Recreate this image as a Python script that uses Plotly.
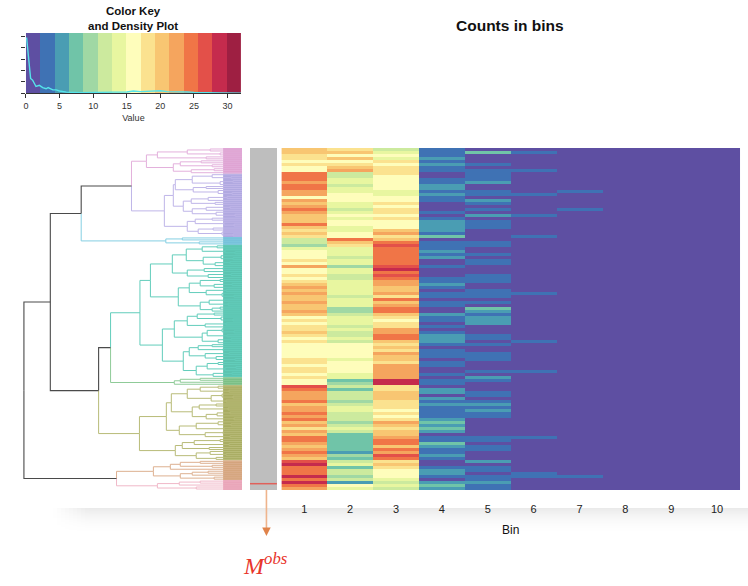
import plotly.graph_objects as go

W, H = 748, 586
N_ROWS = 114
X_NUDGE = -2  # the page renders plot areas 2px right of the nominal position

# ---- heatmap data: one list per bin, rows top to bottom ----
bin_labels = ["1", "2", "3", "4", "5", "6", "7", "8", "9", "10"]
bin_1 = [20,20,18,18,16,18,16,16,25,25, 25,22,25,25,22,22,16,22,20,22,
         25,22,20,20,20,25,20,18,20,18, 12,12,10,14,16,16,16,18,16,22,
         16,16,18,16,18,20,22,20,22,20, 20,22,20,20,22,20,16,18,16,18,
         18,20,18,16,18,16,16,16,16,16, 18,18,16,18,18,16,18,16,16,27,
         25,22,22,22,25,20,22,22,25,22, 25,20,22,18,22,20,25,25,22,20,
         22,25,22,20,27,29,25,25,25,29, 25,29,25,22]
bin_2 = [18,20,16,20,16,18,20,22,12,12, 14,14,12,14,14,16,16,16,14,14,
         12,14,16,14,16,16,14,14,16,16, 25,20,18,14,14,14,12,14,14,10,
         14,14,12,12,14,14,14,14,14,12, 14,14,14,10,10,12,14,14,14,12,
         14,12,12,14,12,16,16,16,16,16, 14,16,16,16,16,14,14,7,10,12,
         7,12,12,12,10,12,14,14,12,12, 12,10,12,14,12,7,7,7,7,7,
         7,5,10,7,12,14,7,12,12,10, 12,5,16,14]
bin_3 = [12,14,16,14,18,16,18,18,18,16, 16,16,16,16,14,14,16,16,18,16,
         18,18,16,18,16,16,16,20,22,18, 20,25,27,25,25,25,25,25,25,27,
         29,25,27,25,22,22,20,20,22,18, 25,20,22,25,25,20,18,16,18,18,
         22,22,25,25,20,18,20,18,22,20, 20,18,22,22,22,22,22,29,29,18,
         18,20,20,20,18,18,18,16,18,16, 18,22,20,18,20,20,22,25,25,20,
         25,22,27,25,18,20,18,16,16,16, 14,12,14,12]
bin_4 = [3,3,3,5,3,5,3,3,1,1, 3,3,5,5,3,5,3,3,1,1,
         1,3,1,3,5,5,5,5,3,7, 1,3,3,3,5,3,5,1,1,3,
         1,1,1,3,3,5,3,1,3,3, 1,3,3,1,1,5,3,3,1,3,
         1,3,5,5,5,3,1,3,3,3, 1,3,3,1,1,3,1,3,3,1,
         5,5,1,5,3,5,3,3,3,3, 5,7,5,7,5,1,3,3,7,5,
         3,3,5,3,1,1,3,5,5,3, 1,5,7,5]
bin_5 = [1,7,1,1,1,3,1,3,3,3, 3,5,1,1,3,3,1,5,3,1,
         3,1,5,1,3,3,3,1,1,1, 1,3,3,1,1,3,1,3,3,1,
         1,1,3,3,3,1,1,3,3,3, 1,3,1,7,5,3,5,5,5,1,
         1,1,3,3,1,3,1,1,3,3, 3,1,1,1,3,1,5,3,1,1,
         1,3,3,1,3,5,3,5,3,3, 1,1,1,1,1,1,3,3,1,3,
         3,1,1,1,5,1,3,3,1,3, 3,5,3,3]
bin_6 = [1,3,1,1,1,1,1,3,1,1, 1,1,1,1,1,3,1,1,1,1,
         1,1,3,1,1,1,1,1,1,3, 1,1,1,1,1,1,1,1,1,1,
         1,1,1,1,1,1,1,1,3,1, 1,1,1,1,1,1,1,1,1,1,
         1,1,1,1,3,1,1,1,1,1, 1,1,1,1,3,1,1,1,1,1,
         1,1,1,1,1,1,1,1,1,1, 1,1,1,1,1,1,3,1,1,1,
         1,1,1,1,1,1,1,1,3,3, 1,1,1,1]
bin_7 = [1,1,1,1,1,1,1,1,1,1, 1,1,1,1,3,1,1,1,1,1,
         3,1,1,1,1,1,1,1,1,1, 1,1,1,1,1,1,1,1,1,1,
         1,1,1,1,1,1,1,1,1,1, 1,1,1,1,1,1,1,1,1,1,
         1,1,1,1,1,1,1,1,1,1, 1,1,1,1,1,1,1,1,1,1,
         1,1,1,1,1,1,1,1,1,1, 1,1,1,1,1,1,1,1,1,1,
         1,1,1,1,1,1,1,1,1,3, 1,1,1,1]
bin_8 = [1] * N_ROWS
bin_9 = [1] * N_ROWS
bin_10 = [1] * N_ROWS

# ---- colour key ----
key_colors = ["#5E4FA2", "#3F72B4", "#4A9DB3", "#70C4A8", "#A0D8A4", "#CCEA9E", "#E8F6A0",
              "#FEFDBB", "#FBE28F", "#F8C672", "#F5A55E", "#F07547", "#E35049", "#C52B4D", "#9E1F42"]
key_max = 32
key_ticks = [0, 5, 10, 15, 20, 25, 30]
density_x = [0.1, 0.4, 0.7, 1, 1.5, 2, 2.5, 3, 3.3, 4, 4.5, 5, 6, 8, 10, 13, 15, 16, 17, 18,
             19, 20, 21, 22, 23, 24, 25, 27, 29, 32]
density_y = [0.49, 0.30, 0.13, 0.115, 0.06, 0.07, 0.05, 0.04, 0.05, 0.03, 0.03, 0.02, 0.01, 0.005,
             0.005, 0.01, 0.012, 0.02, 0.015, 0.017, 0.015, 0.022, 0.015, 0.015, 0.012, 0.012,
             0.008, 0.003, 0.002, 0.0]

# ---- dendrogram: (height, child, child); 0 is a leaf ----
tree_pink = (96, (85, (55, (32, 0, 0), (22, 0, 0)), (36, 0, 0)),
             (69, (62, (41, 0, 0), (30, 0, 0)), (51, (28, 0, 0), 0)))
tree_purple = (78, (69,
                    (67, (50, (30, 0, (11, 0, 0)), (22, (9, 0, 0), 0)), (49, (36, 0, 0), (24, 0, (10, 0, 0)))),
                    (59, (51, (34, (15, 0, 0), 0), (27, 0, 0)), (50, (36, (12, 0, 0), 0), (26, 0, (7, 0, 0))))),
               (55, (47, (30, 0, 0), (18, 0, (8, 0, 0))), (44, (29, 0, 0), (20, 0, (9, 0, 0)))))
tree_cyan = (76.5, (60, 0, 0), (43, 0, 0))
tree_teal = (102.5,
             (92,
              (70, (56, (40, (25, 0, 0), (17, 0, (7, 0, 0))), (39, (21, 0, (9, 0, 0)), (27, (12, 0, 0), 0))),
               (55, (38, (19, 0, 0), 0), (34, (11, 0, 0), 0))),
              (64, (53, (42, (22, 0, 0), (28, (10, 0, 0), 0)), (36, (16, 0, 0), (20, 0, (8, 0, 0)))),
               (42, (33, (18, 0, 0), (14, 0, 0)), (30, (22, 0, 0), 0)))),
             (80,
              (68, (55, (45, (28, 0, 0), (21, 0, (9, 0, 0))), (37, (16, 0, 0), 0)),
               (40, (35, (20, 0, (8, 0, 0)), (15, 0, 0)), (24, (11, 0, 0), 0))),
              (59, (53, (44, (30, 0, 0), (19, 0, 0)), (37, (13, 0, 0), (26, 0, (7, 0, 0)))),
               (46, (35, (24, 0, 0), (17, (6, 0, 0), 0)), (29, (10, 0, 0), 0)))))
tree_green = (68, (62, (42, 0, 0), 0), 0)
tree_olive = (103,
              (76,
               (71, (55, (42, (24, 0, 0), (13, 0, 0)), (31, (20, 0, (9, 0, 0)), (16, 0, 0))),
                (50, (43, (26, 0, 0), (14, 0, 0)), (36, (25, (12, 0, 0), 0), (8, 0, 0)))),
               (63, (46, (24, 0, (11, 0, 0)), (18, 0, 0)), (37, (19, 0, 0), (12, 0, 0)))),
              (67, (60, (48, (22, 0, 0), (13, 0, 0)), (33, 0, 0)), (46, (32, 0, (16, 0, 0)), (26, 0, 0))))
tree_brown = (89, (72, (62, (42, 0, 0), (30, 0, 0)), 0), (62, (50, (34, 0, 0), 0), (28, 0, 0)))
tree_rose = (85, (63, (42, 0, 0), 0), (46, 0, 0))

clusters = [("pink", tree_pink, "#E3B0DC", "#DD9FCF"),
            ("purple", tree_purple, "#BFB5E8", "#B0A8E0"),
            ("cyan", tree_cyan, "#84CFE2", "#6FB8D6"),
            ("teal", tree_teal, "#62CDBB", "#5CC3B0"),
            ("green", tree_green, "#8FCB98", "#75BC80"),
            ("olive", tree_olive, "#B8BB78", "#A8AC62"),
            ("brown", tree_brown, "#DDB090", "#D2A278"),
            ("rose", tree_rose, "#F0B8C8", "#E598AE")]
cluster_index = {c[0]: i for i, c in enumerate(clusters)}
trunk = (219,
         (192.5,
          (161.5, (111, "pink", "purple"), "cyan"),
          (144, (132, "teal", "green"), "olive")),
         (126, "brown", "rose"))
trunk_color = "#4A4A4A"

# ---- pixel layout helpers ----
def px_x(a, b):
    return [(a + X_NUDGE) / W, (b + X_NUDGE) / W]

def px_y(top, bottom):
    return [1 - bottom / H, 1 - top / H]

# ---- lay out the tree ----
leaf_counter = [0]
segments = {c[0]: ([], []) for c in clusters}
segments["trunk"] = ([], [])
spans = {}

def walk_cluster(node, key):
    if node == 0:
        leaf_counter[0] += 1
        return 0, leaf_counter[0] - 0.5
    h, a, b = node
    ha, ya = walk_cluster(a, key)
    hb, yb = walk_cluster(b, key)
    y = (ya + yb) / 2
    xs, ys = segments[key]
    for hc, yc in ((ha, ya), (hb, yb)):
        xs += [hc, h, h, None]
        ys += [yc, yc, y, None]
    return h, y

def walk(node):
    """Return (height, y, segment key) and draw each child's edge in the child's colour."""
    if isinstance(node, str):
        start = leaf_counter[0]
        h, y = walk_cluster(clusters[cluster_index[node]][1], node)
        spans[node] = (start, leaf_counter[0])
        return h, y, node
    h, a, b = node
    ha, ya, ka = walk(a)
    hb, yb, kb = walk(b)
    y = (ya + yb) / 2
    for hc, yc, kc in ((ha, ya, ka), (hb, yb, kb)):
        xs, ys = segments[kc]
        xs += [hc, h, h, None]
        ys += [yc, yc, y, None]
    return h, y, "trunk"

walk(trunk)
n_leaves = leaf_counter[0]

fig = go.Figure()

# soft grey band behind the axis title (a photographed-page backdrop); first subplot, so it stays under labels
band_x = list(range(0, W + 4, 4))
band_rows = list(range(0, 28))
band_z = []
for r in band_rows:
    row_level = ((r + 1) / len(band_rows)) ** 2.2
    line = []
    for px in band_x:
        side = min(1.0, max(0.0, (px - 50) / 35))
        line.append(row_level * side)
    band_z.append(line)
fig.add_trace(go.Heatmap(z=band_z, x=band_x, y=band_rows, zmin=0, zmax=1, showscale=False,
                         colorscale=[[0, "#FFFFFF"], [1, "#EAEAEA"]], xaxis="x", yaxis="y", hoverinfo="skip"))

# main heatmap
main_columns = [bin_1, bin_2, bin_3, bin_4, bin_5, bin_6, bin_7, bin_8, bin_9, bin_10]
main_z = [[col[r] for col in main_columns] for r in range(N_ROWS)]
n = len(key_colors)
step_scale = []
for i, c in enumerate(key_colors):
    step_scale += [[i / n, c], [(i + 1) / n, c]]
fig.add_trace(go.Heatmap(z=main_z, x=list(range(1, 11)), y=list(range(N_ROWS)), zmin=0, zmax=key_max,
                         colorscale=step_scale, showscale=False, xaxis="x5", yaxis="y5", hoverinfo="skip"))

# grey sidebar with the observed row marked
sidebar_z = [[0] for _ in range(N_ROWS)]
fig.add_trace(go.Heatmap(z=sidebar_z, x=[0], y=list(range(N_ROWS)), zmin=0, zmax=1,
                         colorscale=[[0, "#BEBEBE"], [1, "#BEBEBE"]], showscale=False,
                         xaxis="x2", yaxis="y2", hoverinfo="skip"))
obs_row = 111.4
fig.add_trace(go.Scatter(x=[-0.5, 0.5], y=[obs_row, obs_row], mode="lines", xaxis="x2", yaxis="y2",
                         line=dict(color="#E0605A", width=1.5), showlegend=False, hoverinfo="skip"))

# cluster blocks at the dendrogram tips
for name, _, _, fill in clusters:
    s, e = spans[name]
    fig.add_shape(type="rect", xref="x3", yref="y3", x0=0, x1=19, y0=s, y1=e, fillcolor=fill, line_width=0, layer="below")

for name, _, col, _ in clusters:
    xs, ys = segments[name]
    fig.add_trace(go.Scatter(x=xs, y=ys, mode="lines", xaxis="x3", yaxis="y3", line=dict(color=col, width=1),
                             showlegend=False, hoverinfo="skip"))
xs, ys = segments["trunk"]
fig.add_trace(go.Scatter(x=xs, y=ys, mode="lines", xaxis="x3", yaxis="y3", line=dict(color=trunk_color, width=1.1),
                         showlegend=False, hoverinfo="skip"))

# colour key
key_step = key_max / n
key_mid = [(i + 0.5) * key_step for i in range(n)]
fig.add_trace(go.Heatmap(z=[key_mid], x=key_mid, y=[0.265], dy=0.53, zmin=0, zmax=key_max, colorscale=step_scale,
                         showscale=False, xaxis="x4", yaxis="y4", hoverinfo="skip"))
fig.add_trace(go.Scatter(x=density_x, y=density_y, mode="lines", xaxis="x4", yaxis="y4",
                         line=dict(color="#55E4EA", width=1.4), showlegend=False, hoverinfo="skip"))

# pointer from the observed row down to its label
ax = 266.5 + X_NUDGE
fig.add_shape(type="line", xref="paper", yref="paper", x0=ax / W, x1=ax / W, y0=1 - 490 / H, y1=1 - 529 / H,
              line=dict(color="#EFB48C", width=1.6))
fig.add_shape(type="path", xref="paper", yref="paper", line_width=0, fillcolor="#E0834A",
              path=f"M {(ax - 4.3) / W} {1 - 527.5 / H} L {(ax + 4.3) / W} {1 - 527.5 / H} L {ax / W} {1 - 536 / H} Z")

text_font = "Liberation Sans, Arial, sans-serif"
fig.update_layout(
    width=W, height=H, margin=dict(l=0, r=0, t=0, b=0), autosize=False,
    paper_bgcolor="white", plot_bgcolor="rgba(0,0,0,0)", showlegend=False,
    font=dict(family=text_font, color="#222222"),
    xaxis=dict(domain=[0, 1], range=[0, W], visible=False),
    yaxis=dict(domain=px_y(508, 536), range=[-0.5, len(band_rows) - 0.5], visible=False),
    xaxis2=dict(domain=px_x(250, 277), range=[-0.5, 0.5], visible=False, anchor="y2"),
    yaxis2=dict(domain=px_y(148, 490), range=[N_ROWS - 0.5, -0.5], visible=False, anchor="x2"),
    xaxis3=dict(domain=px_x(2, 242), range=[240, 0], visible=False, anchor="y3"),
    yaxis3=dict(domain=px_y(148, 490), range=[n_leaves, 0], visible=False, anchor="x3"),
    xaxis4=dict(domain=px_x(25, 241), range=[0, key_max], tickmode="array", tickvals=key_ticks, ticks="outside",
                ticklen=4, tickcolor="#333333", tickfont=dict(size=9, color="#333333"), showgrid=False, zeroline=False,
                anchor="y4", showline=True, linecolor="#333333", linewidth=1,
                title=dict(text="Value", font=dict(size=9, color="#333333"), standoff=4)),
    yaxis4=dict(domain=px_y(33, 93.3), range=[0, 0.53], tickmode="array", tickvals=[0, 0.1, 0.2, 0.3, 0.4, 0.5],
                showticklabels=False, ticks="outside", ticklen=4, tickcolor="#333333", showgrid=False, zeroline=False,
                showline=False, anchor="x4"),
    xaxis5=dict(domain=px_x(281.5, 742), range=[0.5, 10.5], tickmode="array", tickvals=list(range(1, 11)),
                ticktext=bin_labels, ticks="outside", ticklen=9, tickcolor="rgba(0,0,0,0)",
                tickfont=dict(size=11), showgrid=False, zeroline=False, showline=False, anchor="y5",
                title=dict(text="Bin", font=dict(size=12, color="#111111"), standoff=11)),
    yaxis5=dict(domain=px_y(148, 490), range=[N_ROWS - 0.5, -0.5], visible=False, anchor="x5"),
    annotations=[
        dict(text="<b>Counts in bins</b>", x=509.5 / W, y=1 - 26 / H, xref="paper", yref="paper", showarrow=False,
             font=dict(size=15.5, color="#111111", family=text_font), xanchor="center", yanchor="middle"),
        dict(text="<b>Color Key<br>and Density Plot</b>", x=(132.5 + X_NUDGE) / W, y=1 - 18 / H, xref="paper", yref="paper",
             showarrow=False, font=dict(size=11.5, color="#111111", family=text_font), xanchor="center", yanchor="middle"),
        dict(text="<i>M<sup>obs</sup></i>", x=(265.5 + X_NUDGE) / W, y=1 - 564 / H, xref="paper", yref="paper", showarrow=False,
             font=dict(size=24, color="#E8352B", family="Liberation Serif, serif"), xanchor="center", yanchor="middle"),
    ],
)

fig.write_html("out.html", config={"displayModeBar": False},
               post_script="document.body.style.margin='0';document.documentElement.style.overflow='hidden';")
